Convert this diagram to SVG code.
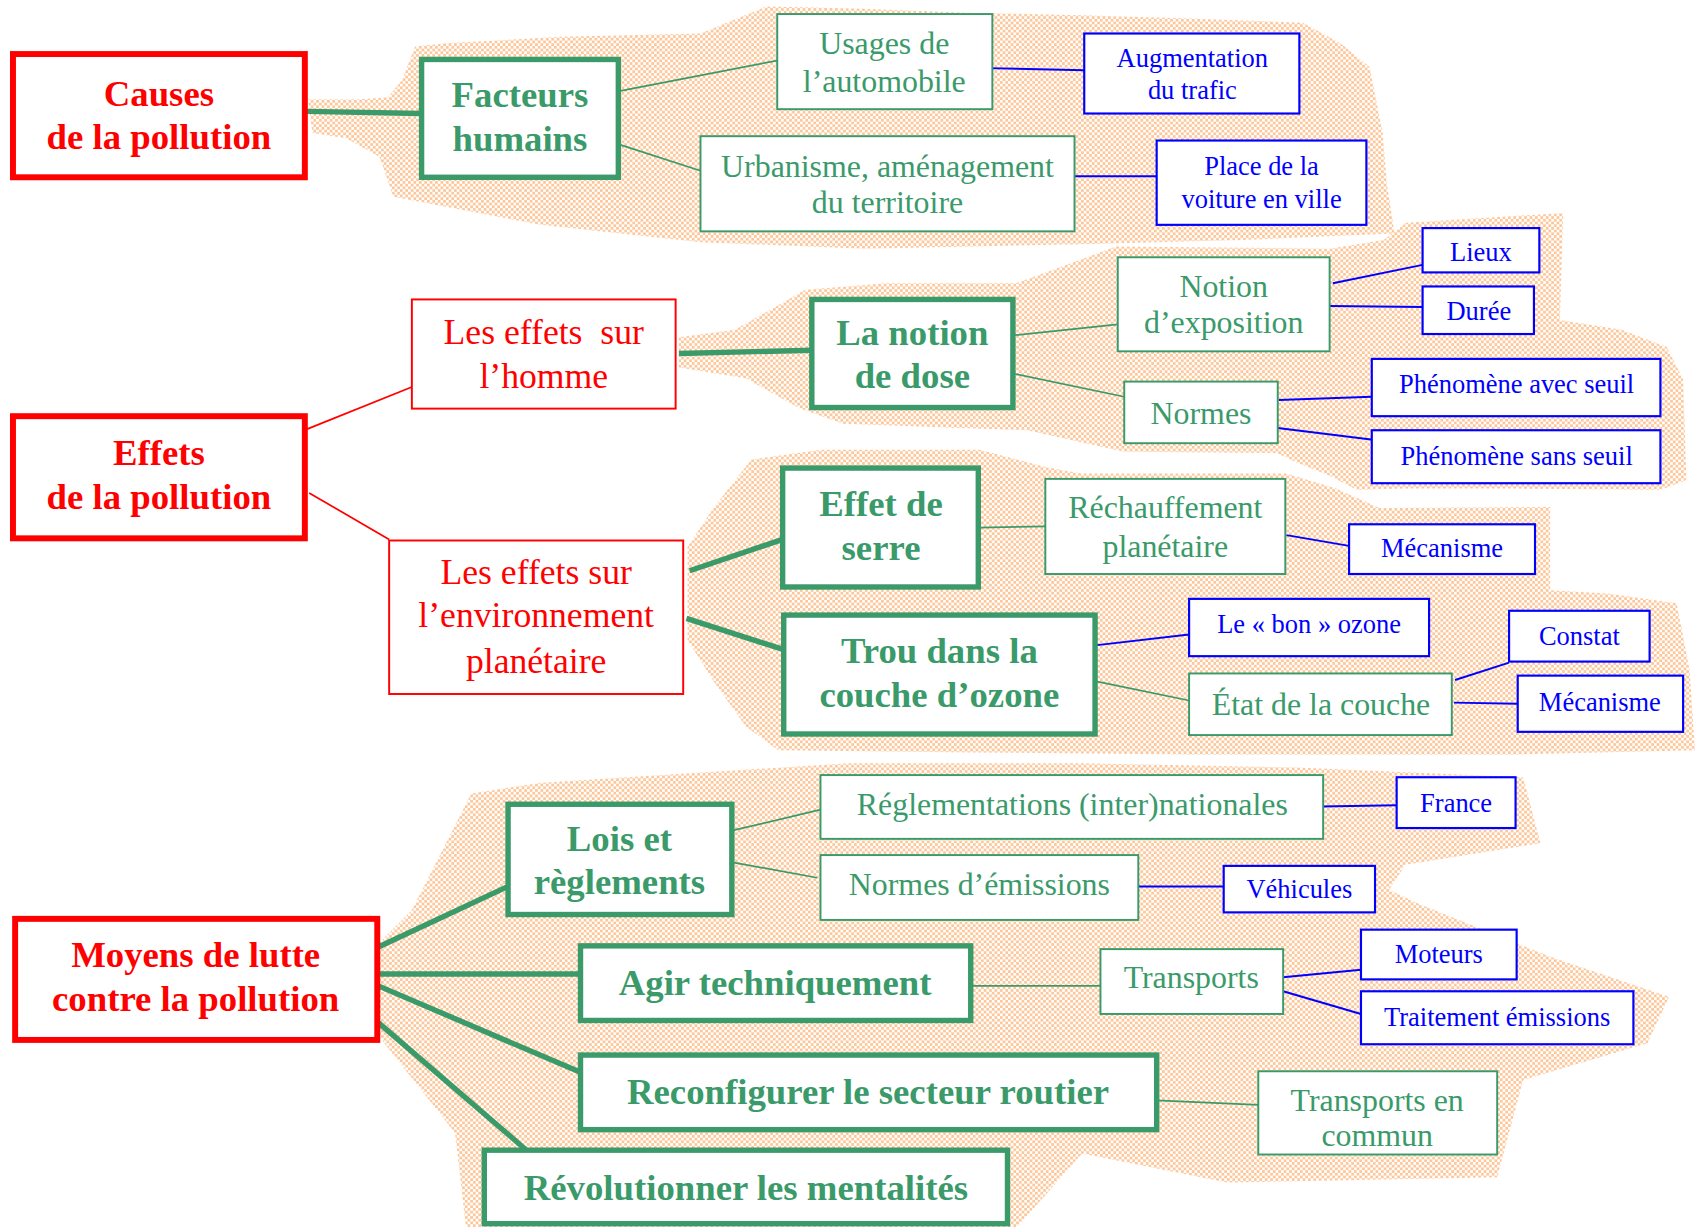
<svg xmlns="http://www.w3.org/2000/svg" width="1695" height="1227" viewBox="0 0 1695 1227">
<defs>
<pattern id="dots" width="5" height="5" patternUnits="userSpaceOnUse">
<rect x="0" y="0" width="2.5" height="2.5" fill="#FDC79A"/>
<rect x="2.5" y="2.5" width="2.5" height="2.5" fill="#FDC79A"/>
</pattern>
<style>
.blob{fill:url(#dots);stroke:none}
.rk{fill:#fff;stroke:#FF0000;stroke-width:5.5}
.rt{fill:#fff;stroke:#FF0000;stroke-width:1.8}
.gk{fill:#fff;stroke:#3A9A6A;stroke-width:5}
.gt{fill:#fff;stroke:#3A9A6A;stroke-width:1.8}
.bt{fill:#fff;stroke:#0000FF;stroke-width:2}
text{font-family:"Liberation Serif","Times New Roman",serif;text-anchor:middle}
.tr{fill:#FF0000;font-weight:bold;font-size:34px}
.trr{fill:#FF0000;font-size:33px}
.tg{fill:#3A9A6A;font-weight:bold;font-size:34px}
.tgr{fill:#3A9A6A;font-size:29.5px}
.tb{fill:#0000FF;font-size:24.5px}
.cgk{stroke:#3A9A6A;stroke-width:5;fill:none}
.cgt{stroke:#3A9A6A;stroke-width:1.6;fill:none}
.cb{stroke:#0000FF;stroke-width:1.8;fill:none}
.cr{stroke:#FF0000;stroke-width:1.6;fill:none}
</style>
</defs>
<rect width="1695" height="1227" fill="#fff"/>
<g transform="scale(1.081)">
<g id="texture">
<path class="blob" d="M285,92 L330,92 L359,90 L372,74 L384,43 L413,40 L520,34 L648,31 L709,6 L800,8 L900,12 L1000,14 L1100,17 L1205,21 L1240,40 L1267,62 L1279,123 L1283,170 L1290,216 L1150,222 L1000,226 L800,230 L648,224 L500,208 L364,182 L351,145 L320,128 L289,123 Z"/>
<path class="blob" d="M628,312 L680,305 L745,268 L820,262 L940,262 L1000,240 L1032,228 L1230,230 L1280,222 L1301,206 L1446,197 L1443,296 L1500,305 L1542,321 L1557,351 L1560,444 L1537,453 L1400,452 L1300,452 L1255,453 L1230,440 L1200,428 L1181,419 L1040,418 L950,398 L780,392 L740,378 L690,350 L628,340 Z"/>
<path class="blob" d="M636,506 L660,470 L695,425 L760,416 L906,416 L967,432 L1000,438 L1190,438 L1236,452 L1276,470 L1434,469 L1434,546 L1487,549 L1551,558 L1563,620 L1568,694 L1400,698 L1100,698 L900,696 L720,694 L690,672 L660,630 L636,592 Z"/>
<path class="blob" d="M351,872 L381,842 L436,734 L501,724 L786,706 L1000,706 L1200,710 L1409,719 L1425,780 L1300,800 L1285,823 L1310,835 L1434,885 L1544,922 L1524,965 L1409,999 L1385,1089 L1135,1094 L1001,1067 L941,1135 L431,1135 L421,1048 L351,959 Z"/>
</g>
<g id="connectors">
<line class="cgk" x1="284" y1="103" x2="390" y2="105"/>
<line class="cgt" x1="574" y1="84" x2="719" y2="56"/>
<line class="cgt" x1="574" y1="134" x2="648" y2="158"/>
<line class="cb" x1="912" y1="63" x2="1003" y2="65"/>
<line class="cb" x1="994" y1="163" x2="1070" y2="163"/>
<line class="cr" x1="284" y1="397" x2="381" y2="358"/>
<line class="cr" x1="286" y1="456" x2="360" y2="499"/>
<line class="cgk" x1="628" y1="327" x2="751" y2="324"/>
<line class="cgt" x1="939" y1="310" x2="1034" y2="300"/>
<line class="cgt" x1="939" y1="346" x2="1040" y2="367"/>
<line class="cb" x1="1233" y1="262" x2="1316" y2="245"/>
<line class="cb" x1="1230" y1="283" x2="1316" y2="284"/>
<line class="cb" x1="1183" y1="370" x2="1269" y2="367"/>
<line class="cb" x1="1182" y1="396" x2="1272" y2="407"/>
<line class="cgk" x1="638" y1="528" x2="724" y2="499"/>
<line class="cgk" x1="635" y1="572" x2="725" y2="601"/>
<line class="cgt" x1="905" y1="488" x2="967" y2="487"/>
<line class="cb" x1="1190" y1="495" x2="1248" y2="505"/>
<line class="cb" x1="1013" y1="597" x2="1100" y2="587"/>
<line class="cgt" x1="1013" y1="630" x2="1100" y2="648"/>
<line class="cb" x1="1346" y1="629" x2="1396" y2="613"/>
<line class="cb" x1="1345" y1="650" x2="1404" y2="651"/>
<line class="cgk" x1="350" y1="876" x2="470" y2="820"/>
<line class="cgk" x1="350" y1="901" x2="540" y2="901"/>
<line class="cgk" x1="350" y1="912" x2="537" y2="992"/>
<line class="cgk" x1="350" y1="946" x2="487" y2="1064"/>
<line class="cgt" x1="679" y1="768" x2="759" y2="749"/>
<line class="cgt" x1="679" y1="798" x2="756" y2="812"/>
<line class="cb" x1="1222" y1="746" x2="1292" y2="745"/>
<line class="cb" x1="1053" y1="820" x2="1132" y2="820"/>
<line class="cgt" x1="898" y1="912" x2="1018" y2="912"/>
<line class="cb" x1="1187" y1="904" x2="1259" y2="897"/>
<line class="cb" x1="1187" y1="917" x2="1259" y2="938"/>
<line class="cgt" x1="1070" y1="1018" x2="1164" y2="1022"/>
</g>
<g id="n-causes"><rect class="rk" x="12" y="50" width="270" height="114"/><text class="tr" x="147" y="98">Causes</text><text class="tr" x="147" y="138">de la pollution</text></g>
<g id="n-facteurs"><rect class="gk" x="390" y="55" width="182" height="109"/><text class="tg" x="481" y="99">Facteurs</text><text class="tg" x="481" y="140">humains</text></g>
<g id="n-usages"><rect class="gt" x="719" y="13" width="199" height="88"/><text class="tgr" x="818" y="50">Usages de</text><text class="tgr" x="818" y="85">l’automobile</text></g>
<g id="n-urbanisme"><rect class="gt" x="648" y="126" width="346" height="88"/><text class="tgr" x="821" y="164">Urbanisme, aménagement</text><text class="tgr" x="821" y="197">du territoire</text></g>
<g id="n-augmentation"><rect class="bt" x="1003" y="31" width="199" height="74"/><text class="tb" x="1103" y="62">Augmentation</text><text class="tb" x="1103" y="92">du trafic</text></g>
<g id="n-place"><rect class="bt" x="1070" y="130" width="194" height="78"/><text class="tb" x="1167" y="162">Place de la</text><text class="tb" x="1167" y="192">voiture en ville</text></g>
<g id="n-effets"><rect class="rk" x="12" y="385" width="270" height="113"/><text class="tr" x="147" y="430">Effets</text><text class="tr" x="147" y="471">de la pollution</text></g>
<g id="n-homme"><rect class="rt" x="381" y="277" width="244" height="101"/><text class="trr" x="503" y="318" xml:space="preserve">Les effets  sur</text><text class="trr" x="503" y="359">l’homme</text></g>
<g id="n-environnement"><rect class="rt" x="360" y="500" width="272" height="142"/><text class="trr" x="496" y="540">Les effets sur</text><text class="trr" x="496" y="580">l’environnement</text><text class="trr" x="496" y="623">planétaire</text></g>
<g id="n-dose"><rect class="gk" x="751" y="277" width="186" height="100"/><text class="tg" x="844" y="319">La notion</text><text class="tg" x="844" y="359">de dose</text></g>
<g id="n-exposition"><rect class="gt" x="1034" y="238" width="196" height="87"/><text class="tgr" x="1132" y="275">Notion</text><text class="tgr" x="1132" y="308">d’exposition</text></g>
<g id="n-normes"><rect class="gt" x="1040" y="353" width="142" height="57"/><text class="tgr" x="1111" y="392">Normes</text></g>
<g id="n-lieux"><rect class="bt" x="1316" y="211" width="108" height="41"/><text class="tb" x="1370" y="241">Lieux</text></g>
<g id="n-duree"><rect class="bt" x="1316" y="265" width="103" height="44"/><text class="tb" x="1368" y="296">Durée</text></g>
<g id="n-avec"><rect class="bt" x="1269" y="332" width="267" height="53"/><text class="tb" x="1403" y="364">Phénomène avec seuil</text></g>
<g id="n-sans"><rect class="bt" x="1269" y="398" width="267" height="49"/><text class="tb" x="1403" y="430">Phénomène sans seuil</text></g>
<g id="n-serre"><rect class="gk" x="724" y="433" width="181" height="110"/><text class="tg" x="815" y="477">Effet de</text><text class="tg" x="815" y="518">serre</text></g>
<g id="n-trou"><rect class="gk" x="725" y="569" width="288" height="110"/><text class="tg" x="869" y="613">Trou dans la</text><text class="tg" x="869" y="654">couche d’ozone</text></g>
<g id="n-rechauffement"><rect class="gt" x="967" y="443" width="222" height="88"/><text class="tgr" x="1078" y="479">Réchauffement</text><text class="tgr" x="1078" y="515">planétaire</text></g>
<g id="n-mecanisme1"><rect class="bt" x="1248" y="485" width="172" height="46"/><text class="tb" x="1334" y="515">Mécanisme</text></g>
<g id="n-bonozone"><rect class="bt" x="1100" y="554" width="222" height="53"/><text class="tb" x="1211" y="586">Le « bon » ozone</text></g>
<g id="n-etat"><rect class="gt" x="1100" y="623" width="243" height="57"/><text class="tgr" x="1222" y="661">État de la couche</text></g>
<g id="n-constat"><rect class="bt" x="1396" y="565" width="130" height="47"/><text class="tb" x="1461" y="597">Constat</text></g>
<g id="n-mecanisme2"><rect class="bt" x="1404" y="625" width="153" height="52"/><text class="tb" x="1480" y="658">Mécanisme</text></g>
<g id="n-moyens"><rect class="rk" x="14" y="850" width="335" height="112"/><text class="tr" x="181" y="895">Moyens de lutte</text><text class="tr" x="181" y="935">contre la pollution</text></g>
<g id="n-lois"><rect class="gk" x="470" y="744" width="207" height="102"/><text class="tg" x="573" y="787">Lois et</text><text class="tg" x="573" y="827">règlements</text></g>
<g id="n-agir"><rect class="gk" x="537" y="875" width="361" height="69"/><text class="tg" x="717" y="920">Agir techniquement</text></g>
<g id="n-reconfigurer"><rect class="gk" x="537" y="976" width="533" height="69"/><text class="tg" x="803" y="1021">Reconfigurer le secteur routier</text></g>
<g id="n-revolutionner"><rect class="gk" x="448" y="1064" width="484" height="68"/><text class="tg" x="690" y="1110">Révolutionner les mentalités</text></g>
<g id="n-reglementations"><rect class="gt" x="759" y="717" width="465" height="59"/><text class="tgr" x="992" y="754">Réglementations (inter)nationales</text></g>
<g id="n-normesem"><rect class="gt" x="759" y="791" width="294" height="60"/><text class="tgr" x="906" y="828">Normes d’émissions</text></g>
<g id="n-france"><rect class="bt" x="1292" y="719" width="110" height="47"/><text class="tb" x="1347" y="751">France</text></g>
<g id="n-vehicules"><rect class="bt" x="1132" y="801" width="140" height="43"/><text class="tb" x="1202" y="831">Véhicules</text></g>
<g id="n-transports"><rect class="gt" x="1018" y="878" width="169" height="60"/><text class="tgr" x="1102" y="914">Transports</text></g>
<g id="n-moteurs"><rect class="bt" x="1259" y="860" width="144" height="46"/><text class="tb" x="1331" y="891">Moteurs</text></g>
<g id="n-traitement"><rect class="bt" x="1259" y="917" width="252" height="49"/><text class="tb" x="1385" y="949">Traitement émissions</text></g>
<g id="n-commun"><rect class="gt" x="1164" y="991" width="221" height="77"/><text class="tgr" x="1274" y="1028">Transports en</text><text class="tgr" x="1274" y="1060">commun</text></g>
</g>
</svg>
